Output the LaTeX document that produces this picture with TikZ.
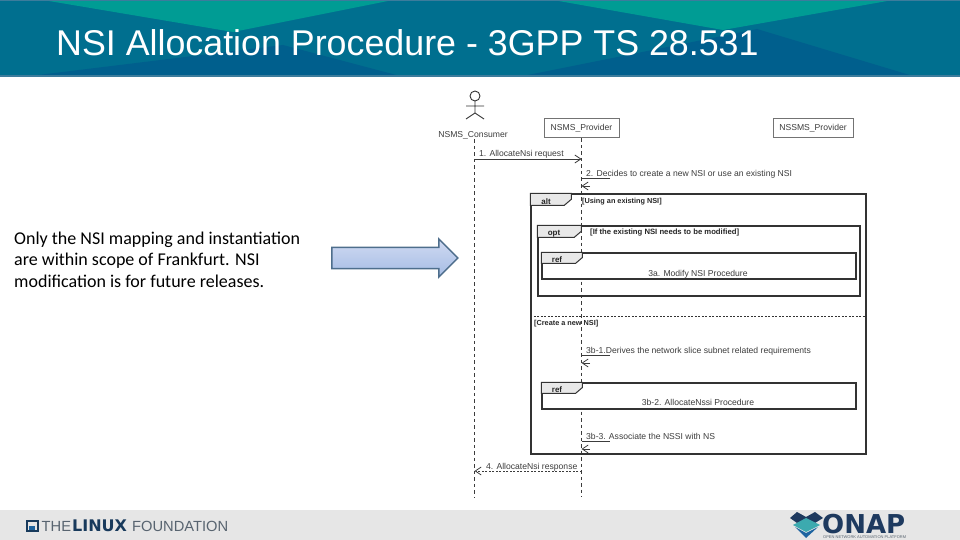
\documentclass[tikz,border=0pt]{standalone}
\usepackage{fontspec}
\setmainfont{Liberation Sans}
\newfontfamily\notefont{Carlito}
\newfontfamily\logofont{DejaVu Sans}
\usepackage{xcolor}
\usetikzlibrary{arrows.meta,positioning,shapes.arrows}
\definecolor{hdbase}{RGB}{0,111,143}
\definecolor{hdteal}{RGB}{0,156,148}
\definecolor{hddark}{RGB}{0,95,141}
\definecolor{hdline}{RGB}{60,124,156}
\definecolor{ftgray}{RGB}{230,230,230}
\definecolor{seqink}{RGB}{60,60,60}
\definecolor{tabgray}{RGB}{232,232,232}
\definecolor{arrowedge}{RGB}{78,110,140}
\definecolor{arrowtop}{RGB}{208,218,242}
\definecolor{arrowbot}{RGB}{165,188,228}
\definecolor{lfnavy}{RGB}{24,58,92}
\definecolor{lfgray}{RGB}{88,100,112}
\definecolor{onapnavy}{RGB}{30,58,95}
\definecolor{onapteal}{RGB}{60,170,175}
\definecolor{onapblue}{RGB}{30,100,160}

\begin{document}
\begin{tikzpicture}[
  x=1pt,y=-1pt,
  actorbox/.style={draw=black!55,line width=1pt,fill=white,minimum width=75pt,minimum height=19pt,
                   inner sep=0pt,font=\fontsize{8.6}{10}\selectfont,text=seqink},
  lifeline/.style={draw=seqink,dashed,dash pattern=on 3.5pt off 3pt,line width=.8pt},
  msg/.style={draw=seqink,line width=.8pt,-{Straight Barb[length=6pt,width=8pt]}},
  msgtext/.style={anchor=base west,inner sep=0pt,font=\fontsize{8.6}{10}\selectfont,text=seqink},
  guardtext/.style={anchor=base west,inner sep=0pt,font=\fontsize{7.3}{9}\bfseries\selectfont,text=black!85},
  frmbox/.style={draw=black!80,line width=1.4pt,inner sep=0pt},
  refbox/.style={frmbox,line width=1.1pt,fill=white},
  tabshape/.style={draw=black!80,line width=1pt,fill=tabgray},
  tabtext/.style={anchor=base,inner sep=0pt,font=\fontsize{8}{10}\bfseries\selectfont,text=black!85},
  hugearrow/.style={single arrow,draw=arrowedge,line width=1.5pt,top color=arrowtop,
                    bottom color=arrowbot,minimum height=126pt,minimum width=38pt,
                    inner sep=8.5pt,single arrow head indent=0pt},
  lftext/.style={anchor=base west,inner sep=0pt,font=\fontsize{14.7}{18}\selectfont,text=lfgray},
  >=Stealth
]
\useasboundingbox (0,0) rectangle (960,540);

% header
\fill[hdbase] (0,0) rectangle (960,76);
\fill[hddark] (30,76) -- (283,45) -- (400,76) -- cycle;
\fill[hddark] (523,76) -- (757,29) -- (913,76) -- cycle;
\fill[hdteal] (43,0) -- (233,32) -- (393,0) -- cycle;
\fill[hdteal] (553,0) -- (723,30) -- (893,0) -- cycle;
\fill[hdline] (0,0) rectangle (960,1);
\fill[hdline] (0,75) rectangle (960,77);
\node[anchor=base west,inner sep=0pt,text=white,font=\fontsize{35.8}{40}\selectfont] (title) at (56,56)
  {NSI Allocation Procedure - 3GPP TS 28.531};

% footer
\fill[ftgray] (0,510) rectangle (960,540);
\draw[lfnavy,line width=1.8pt] (27,521) rectangle (38,531);
\fill[onapblue] (29,526) rectangle (35,530);
\node[lftext] (lfthe) at (41.5,531.5) {THE};
\node[lftext,font=\logofont\fontsize{16}{18}\bfseries\selectfont,text=lfnavy] (lflinux) at (72,531.5) {LINUX};
\node[lftext] (lffound) at (132,531.5) {FOUNDATION};
\fill[onapnavy] (790,518) -- (797,512) -- (806,517) -- (815,512) -- (823,518) -- (815,523) -- (806,519) -- (797,523) -- cycle;
\fill[onapteal] (806,518) -- (820,525) -- (806,532) -- (793,525) -- cycle;
\fill[onapblue] (795,527) -- (806,533) -- (818,527) -- (806,538) -- cycle;
\node[anchor=base west,inner sep=0pt,font=\logofont\fontsize{26}{26}\bfseries\selectfont,text=onapnavy] (onap) at (822,533) {ONAP};
\node[anchor=base west,inner sep=0pt,font=\fontsize{4}{5}\selectfont,text=lfgray] (onapsub) at (823,538.5)
  {OPEN NETWORK AUTOMATION PLATFORM};

% note and arrow
\node[anchor=north west,inner sep=0pt,align=left,font=\notefont\fontsize{18}{21.5}\selectfont,text=black] (note) at (14,231.5)
  {Only the NSI mapping and instantiation\\are within scope of Frankfurt. NSI\\modification is for future releases.};
\node[hugearrow] (callout) at (389.5,258) {};

% participants
\draw[black!80,line width=.9pt] (475,96) circle (5);
\draw[black!80,line width=.9pt] (475,101) -- (475,113) (466,106) -- (484,106) (466,119) -- (475,113) -- (484,119);
\node[anchor=base,inner sep=0pt,font=\fontsize{8.6}{10}\selectfont,text=seqink] (consumer) at (473,137.5) {NSMS\_Consumer};
\node[actorbox] (provider) at (581.5,128.5) {NSMS\_Provider};
\node[actorbox,minimum width=80pt] (subprovider) at (813,128.5) {NSSMS\_Provider};

% lifelines
\coordinate (consend) at (474.5,497);
\coordinate (provend) at (581.5,497);
\draw[lifeline] (consend |- consumer.south) -- (consend);
\draw[lifeline] (provider.south) -- (provend);

% alt frame
\node[frmbox,minimum width=335pt,minimum height=260pt] (alt) at (698.5,324) {};
\draw[tabshape] (alt.north west) -- ++(41,0) -- ++(0,6) -- ++(-7,6) -- ++(-34,0) -- cycle;
\node[tabtext] (altlabel) at (546,204.5) {alt};
\node[guardtext] (altguard) at (582,204) {[Using an existing NSI]};
\draw[draw=black!80,line width=.6pt,dashed,dash pattern=on 2pt off 1.5pt] (alt.west |- 0,316) -- (alt.east |- 0,316);
\node[guardtext] (newguard) at (534,325) {[Create a new NSI]};

% opt frame
\node[frmbox,minimum width=322pt,minimum height=70pt] (opt) at (699,261) {};
\draw[tabshape] (opt.north west) -- ++(44,0) -- ++(0,6) -- ++(-7,6) -- ++(-37,0) -- cycle;
\node[tabtext] (optlabel) at (554,235) {opt};
\node[guardtext,font=\fontsize{7.7}{9}\bfseries\selectfont] (optguard) at (590,234.5) {[If the existing NSI needs to be modified]};

% refs
\node[refbox,minimum width=314pt,minimum height=26pt] (refa) at (699,266) {};
\draw[tabshape] (refa.north west) -- ++(41,0) -- ++(0,5) -- ++(-7,6) -- ++(-34,0) -- cycle;
\node[tabtext] (refalabel) at (557,262.5) {ref};
\node[msgtext,anchor=base] (refatext) at (698,276) {3a. Modify NSI Procedure};

\node[refbox,minimum width=314pt,minimum height=26pt] (refb) at (699,396) {};
\draw[tabshape] (refb.north west) -- ++(41,0) -- ++(0,5) -- ++(-7,6) -- ++(-34,0) -- cycle;
\node[tabtext] (refblabel) at (557,392.5) {ref};
\node[msgtext,anchor=base] (refbtext) at (698,405) {3b-2. AllocateNssi Procedure};

% messages
\coordinate (m1a) at (474.5,159);
\coordinate (m1b) at (581.5,159);
\draw[msg] (m1a) -- (m1b);
\node[msgtext] (m1) at (479,156.5) {1. AllocateNsi request};

\coordinate (m2a) at (581.5,178);
\draw[draw=seqink,line width=.8pt] (m2a) -- ++(28,0);
\draw[msg] (590,186) -- (m2a |- 0,186);
\node[msgtext] (m2) at (586,176) {2. Decides to create a new NSI or use an existing NSI};

\coordinate (m3a) at (581.5,355);
\draw[draw=seqink,line width=.8pt] (m3a) -- ++(28,0);
\draw[msg] (590,363) -- (m3a |- 0,363);
\node[msgtext] (m3) at (586,353) {3b-1.Derives the network slice subnet related requirements};

\coordinate (m4a) at (581.5,441);
\draw[draw=seqink,line width=.8pt] (m4a) -- ++(28,0);
\draw[msg] (590,449) -- (m4a |- 0,449);
\node[msgtext] (m4) at (586,439) {3b-3. Associate the NSSI with NS};

\coordinate (m5a) at (581.5,471);
\coordinate (m5b) at (474.5,471);
\draw[msg,dash pattern=on 2pt off 1.5pt] (m5a) -- (m5b);
\node[msgtext] (m5) at (486,469.5) {4. AllocateNsi response};

\end{tikzpicture}
\end{document}
